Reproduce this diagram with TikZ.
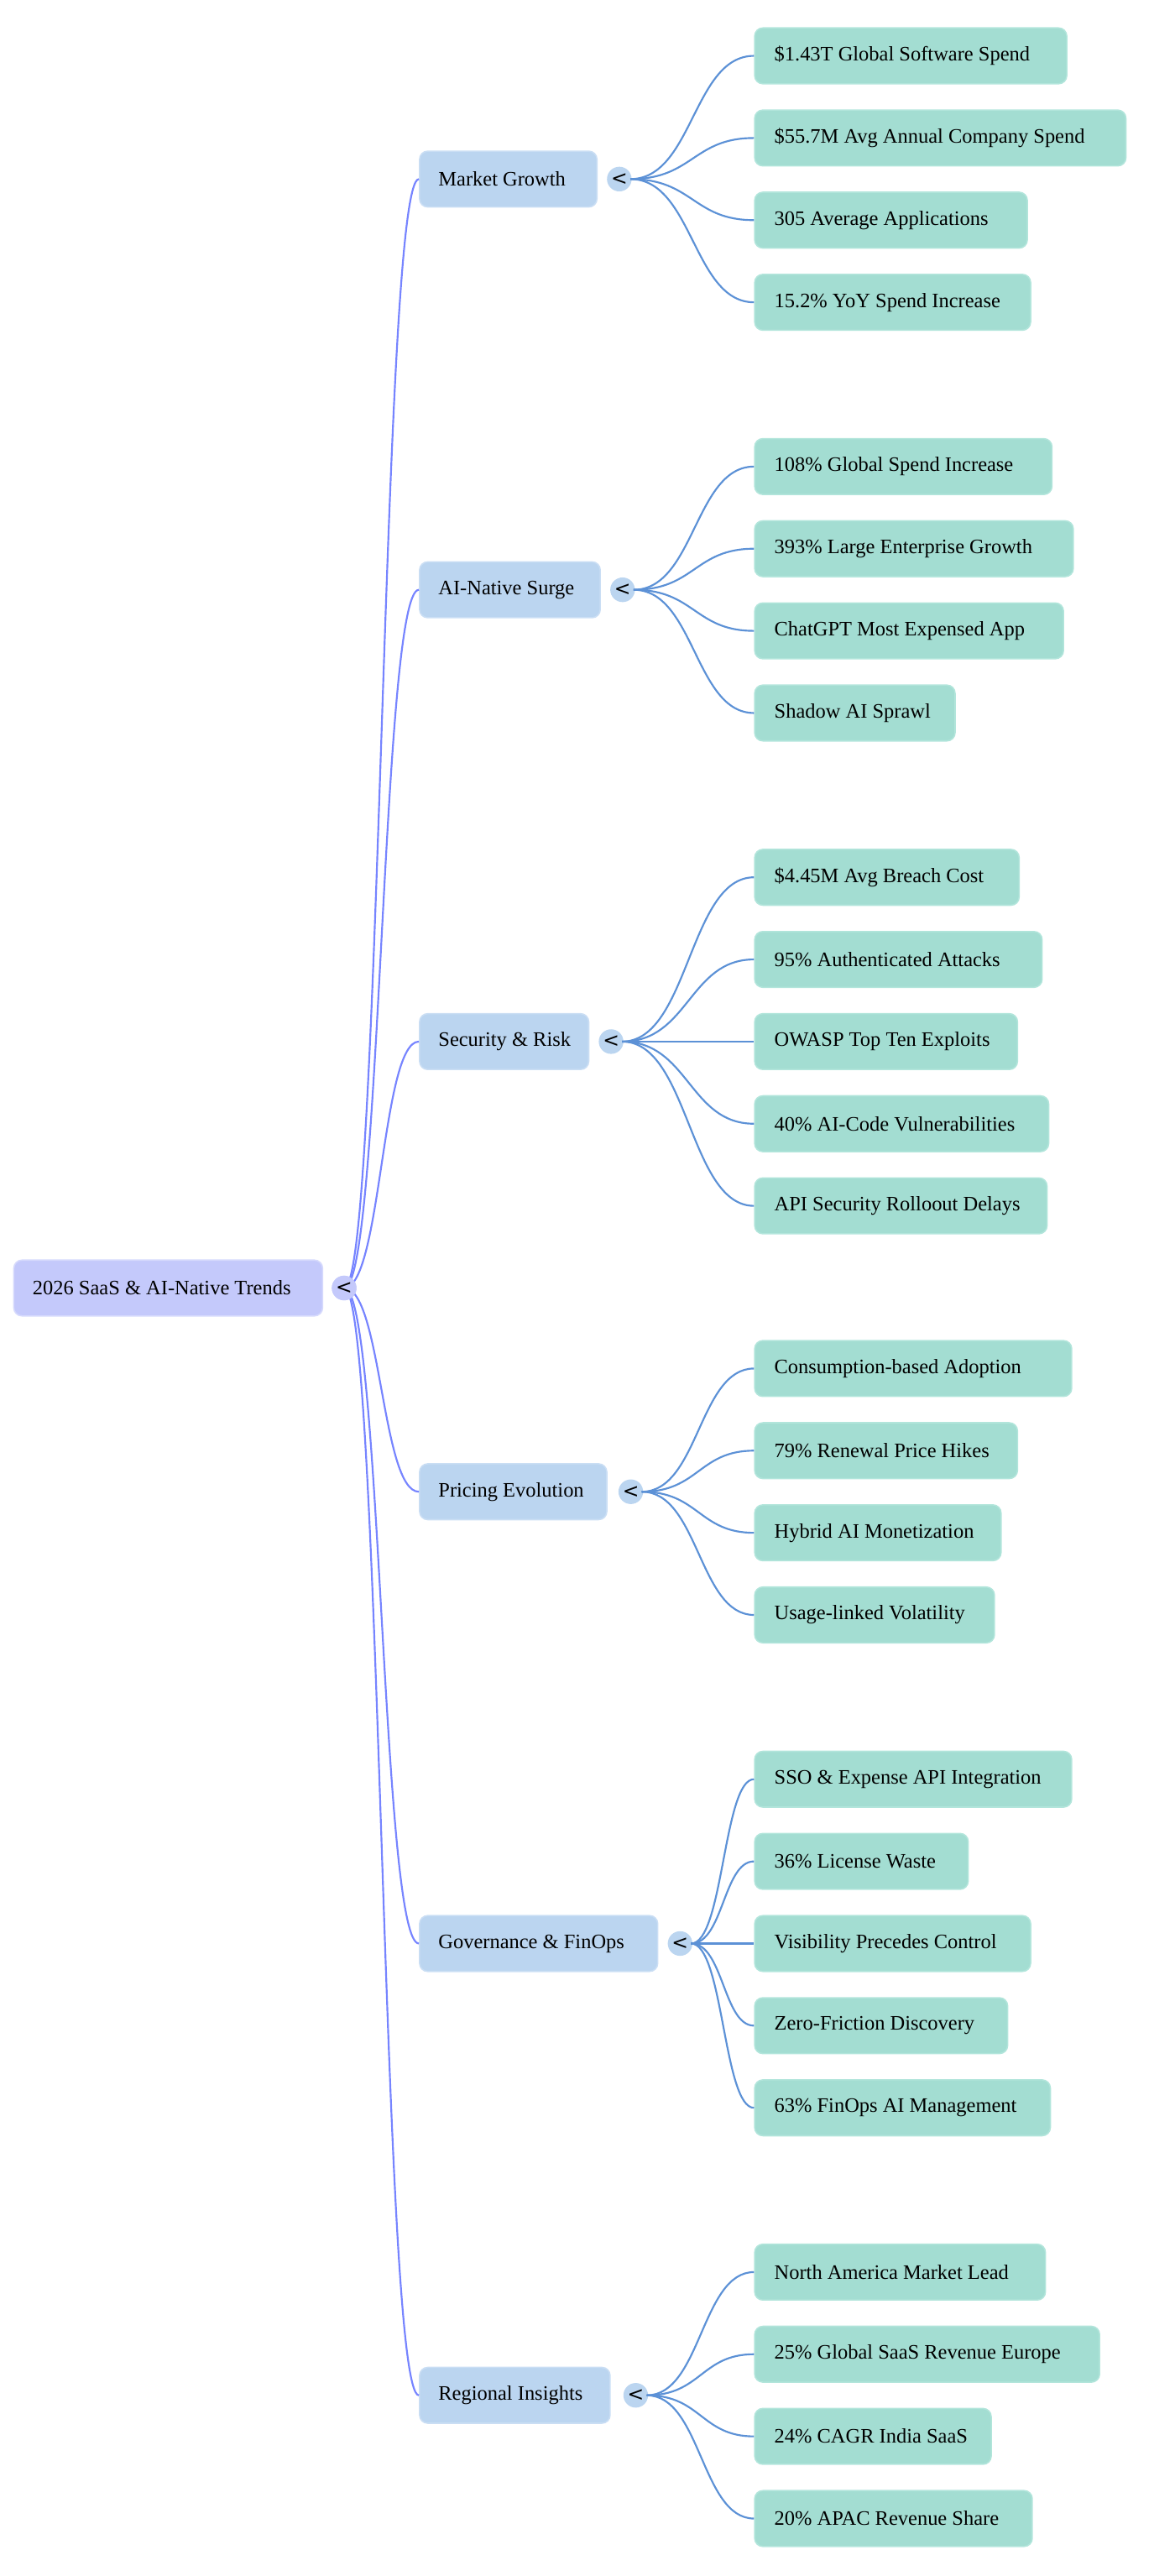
\documentclass[tikz,border=0pt]{standalone}
\usepackage{fontspec}
\setmainfont{Liberation Serif}
\newfontfamily\chevfont{DejaVu Sans}
\definecolor{rootfill}{RGB}{196,201,251}
\definecolor{rootdraw}{RGB}{214,218,252}
\definecolor{brfill}{RGB}{187,213,240}
\definecolor{brdraw}{RGB}{202,222,244}
\definecolor{lffill}{RGB}{163,221,210}
\definecolor{lfdraw}{RGB}{178,229,219}
\definecolor{rootedge}{RGB}{118,132,255}
\definecolor{bredge}{RGB}{92,145,214}
\tikzset{
  boxbase/.style={anchor=west, rounded corners=5pt, minimum height=34pt, inner ysep=0pt, inner xsep=11.5pt, line width=0.8pt, font=\fontsize{12.5}{15}\selectfont},
  rootbox/.style={boxbase, fill=rootfill, draw=rootdraw},
  brbox/.style={boxbase, fill=brfill, draw=brdraw},
  leafbox/.style={boxbase, inner xsep=12pt, fill=lffill, draw=lfdraw},
  chev/.style={circle, minimum size=15pt, inner sep=0pt, font=\chevfont\fontsize{12}{12}\selectfont},
  rootlink/.style={draw=rootedge, line width=1.1pt},
  brlink/.style={draw=bredge, line width=1.1pt}
}
\newcommand\leafnode[4]{\node[leafbox] (#1) at (459,#2) {\makebox[#3pt][l]{#4}};}
\newcommand\rlink[2]{\draw[rootlink] (rc.center) .. controls ($(rc.center)!0.5!(#1.west|-rc.center)$) and ($(rc.center|-#1.west)!0.5!(#1.west)$) .. (#1.west);}
\newcommand\blink[2]{\draw[brlink] ($(#1.east)+(-1,0)$) .. controls ($(#1.east)!0.5!(#2.west|-#1.east)$) and ($(#1.east|-#2.west)!0.5!(#2.west)$) .. (#2.west);}
\usetikzlibrary{calc}
\begin{document}
\begin{tikzpicture}[x=1pt,y=-1pt]
\useasboundingbox (0,0) rectangle (715,1568);
% root
\node[rootbox] (root) at (8,784) {\makebox[165pt][l]{2026 SaaS \& AI-Native Trends}};
\node[chev, fill=rootfill] (rc) at (209.5,784) {<};
% branches
\node[brbox] (mg) at (255,109) {\makebox[85pt][l]{Market Growth}};
\node[brbox] (ai) at (255,359) {\makebox[87pt][l]{AI-Native Surge}};
\node[brbox] (sr) at (255,634) {\makebox[80pt][l]{Security \& Risk}};
\node[brbox] (pe) at (255,908) {\makebox[91pt][l]{Pricing Evolution}};
\node[brbox] (gf) at (255,1183) {\makebox[122pt][l]{Governance \& FinOps}};
\node[brbox] (ri) at (255,1458) {\makebox[93pt][l]{Regional Insights}};
\node[chev, fill=brfill] (mgc) at (377,109) {<};
\node[chev, fill=brfill] (aic) at (379,359) {<};
\node[chev, fill=brfill] (src) at (372,634) {<};
\node[chev, fill=brfill] (pec) at (384,908) {<};
\node[chev, fill=brfill] (gfc) at (414,1183) {<};
\node[chev, fill=brfill] (ric) at (387,1458) {<};
% leaves
\leafnode{l1}{34}{166}{\$1.43T Global Software Spend}
\leafnode{l2}{84}{202}{\$55.7M Avg Annual Company Spend}
\leafnode{l3}{134}{142}{305 Average Applications}
\leafnode{l4}{184}{144}{15.2\% YoY Spend Increase}
\leafnode{l5}{284}{157}{108\% Global Spend Increase}
\leafnode{l6}{334}{170}{393\% Large Enterprise Growth}
\leafnode{l7}{384}{164}{ChatGPT Most Expensed App}
\leafnode{l8}{434}{98}{Shadow AI Sprawl}
\leafnode{l9}{534}{137}{\$4.45M Avg Breach Cost}
\leafnode{l10}{584}{151}{95\% Authenticated Attacks}
\leafnode{l11}{634}{136}{OWASP Top Ten Exploits}
\leafnode{l12}{684}{155}{40\% AI-Code Vulnerabilities}
\leafnode{l13}{734}{154}{API Security Rolloout Delays}
\leafnode{l14}{833}{169}{Consumption-based Adoption}
\leafnode{l15}{883}{136}{79\% Renewal Price Hikes}
\leafnode{l16}{933}{126}{Hybrid AI Monetization}
\leafnode{l17}{983}{122}{Usage-linked Volatility}
\leafnode{l18}{1083}{169}{SSO \& Expense API Integration}
\leafnode{l19}{1133}{106}{36\% License Waste}
\leafnode{l20}{1183}{144}{Visibility Precedes Control}
\leafnode{l21}{1233}{130}{Zero-Friction Discovery}
\leafnode{l22}{1283}{156}{63\% FinOps AI Management}
\leafnode{l23}{1383}{153}{North America Market Lead}
\leafnode{l24}{1433}{186}{25\% Global SaaS Revenue Europe}
\leafnode{l25}{1483}{120}{24\% CAGR India SaaS}
\leafnode{l26}{1533}{145}{20\% APAC Revenue Share}
% connectors
\rlink{mg}{}
\rlink{ai}{}
\rlink{sr}{}
\rlink{pe}{}
\rlink{gf}{}
\rlink{ri}{}
\blink{mgc}{l1}\blink{mgc}{l2}\blink{mgc}{l3}\blink{mgc}{l4}
\blink{aic}{l5}\blink{aic}{l6}\blink{aic}{l7}\blink{aic}{l8}
\blink{src}{l9}\blink{src}{l10}\blink{src}{l11}\blink{src}{l12}\blink{src}{l13}
\blink{pec}{l14}\blink{pec}{l15}\blink{pec}{l16}\blink{pec}{l17}
\blink{gfc}{l18}\blink{gfc}{l19}\blink{gfc}{l20}\blink{gfc}{l21}\blink{gfc}{l22}
\blink{ric}{l23}\blink{ric}{l24}\blink{ric}{l25}\blink{ric}{l26}
% redraw root chevron on top
\node[chev, fill=rootfill] at (rc) {<};
\end{tikzpicture}
\end{document}
